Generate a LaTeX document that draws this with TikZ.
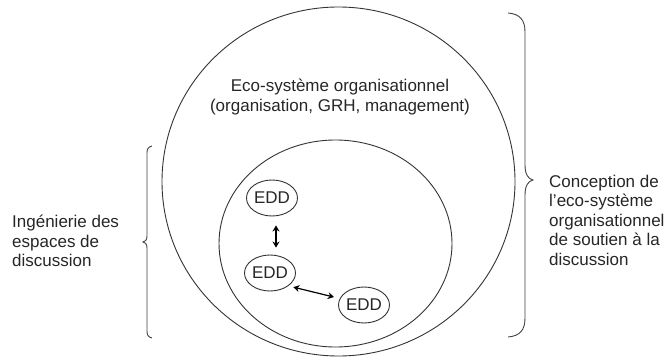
\documentclass[tikz,border=0pt]{standalone}
\usepackage{fontspec}
\setmainfont{Liberation Sans}
\usetikzlibrary{arrows.meta,shapes.geometric}
\begin{document}
\begin{tikzpicture}[x=1pt,y=-1pt,
  every node/.style={font=\fontsize{17}{19.5}\selectfont, text=black!85},
  ring/.style={ellipse, draw=black!80, line width=0.9pt, inner sep=0pt},
  edd/.style={ellipse, draw=black!80, line width=0.9pt, minimum width=51pt, minimum height=36pt, inner sep=0pt},
  link/.style={line width=1.2pt, {Stealth[length=6pt,width=7pt]}-{Stealth[length=6pt,width=7pt]}},
  bracket/.style={draw=black!75, line width=0.9pt},
  lab/.style={align=left, anchor=west, inner sep=0pt}
]
\useasboundingbox (0,0) rectangle (671,358);
\node[ring, minimum width=353pt, minimum height=349pt] (outer) at (338.5,181.5) {};
\node[ring, minimum width=233pt, minimum height=207pt] (inner) at (335.5,243.5) {};
\node[align=center, inner sep=0pt] (eco) at (340,97) {Eco-système organisationnel\\(organisation, GRH, management)};
\node[edd] (e1) at (272,198) {EDD};
\node[edd] (e2) at (270,273) {EDD};
\node[edd] (e3) at (364,305) {EDD};
\draw[link, shorten <=9pt, shorten >=7pt] ([xshift=4pt]e1.south) -- ([xshift=6pt]e2.north);
\draw[link, shorten <=5pt, shorten >=6pt] (e2.-35) -- (e3.165);
\draw[bracket] (152,146) .. controls (148,147) and (147,149) .. (147,153) -- (147,236) .. controls (147,240) and (145,242) .. (143,242) .. controls (145,242) and (147,244) .. (147,248) -- (147,331) .. controls (147,335) and (148,337) .. (152,338);
\draw[bracket] (508,13) .. controls (520,14) and (525,20) .. (525,32) -- (525,165) .. controls (525,174) and (528,179) .. (533,180) .. controls (528,181) and (525,186) .. (525,195) -- (525,318) .. controls (525,330) and (520,336) .. (508,337);
\node[lab] (left) at (12,241) {Ingénierie des\\espaces de\\discussion};
\node[lab] (right) at (549,220) {Conception de\\l’eco-système\\organisationnel\\de soutien à la\\discussion};
\end{tikzpicture}
\end{document}
